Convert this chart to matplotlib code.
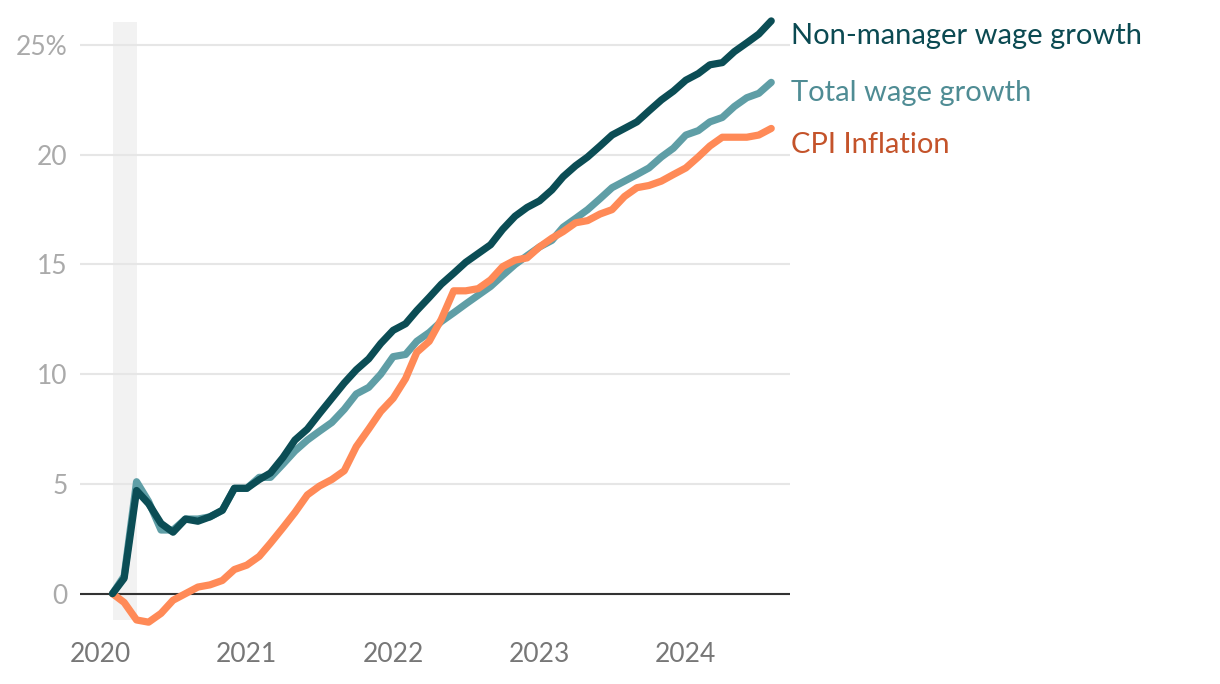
import matplotlib
matplotlib.use('Agg')
import matplotlib.pyplot as plt
import matplotlib.dates as mdates
import pandas as pd
from datetime import datetime

plt.rcParams['font.family'] = ['Lato', 'DejaVu Sans']

# monthly cumulative change since Feb 2020, %
months = pd.date_range('2020-02-01', '2024-08-01', freq='MS')

non_manager = [0.0, 0.7, 4.7, 4.1, 3.2, 2.8, 3.4, 3.3, 3.5, 3.8, 4.8,
               4.8, 5.2, 5.5, 6.2, 7.0, 7.5, 8.2, 8.9, 9.6, 10.2, 10.7, 11.4,
               12.0, 12.3, 12.9, 13.5, 14.1, 14.6, 15.1, 15.5, 15.9, 16.6, 17.2, 17.6,
               17.9, 18.4, 19.0, 19.5, 19.9, 20.4, 20.9, 21.2, 21.5, 22.0, 22.5, 22.9,
               23.4, 23.7, 24.1, 24.2, 24.7, 25.1, 25.5, 26.1]

total_wage = [0.0, 0.8, 5.1, 4.2, 2.9, 2.9, 3.4, 3.4, 3.5, 3.8, 4.8,
              4.8, 5.3, 5.3, 5.9, 6.5, 7.0, 7.4, 7.8, 8.4, 9.1, 9.4, 10.0,
              10.8, 10.9, 11.5, 11.9, 12.4, 12.8, 13.2, 13.6, 14.0, 14.5, 15.0, 15.4,
              15.8, 16.1, 16.7, 17.1, 17.5, 18.0, 18.5, 18.8, 19.1, 19.4, 19.9, 20.3,
              20.9, 21.1, 21.5, 21.7, 22.2, 22.6, 22.8, 23.3]

cpi = [0.0, -0.4, -1.2, -1.3, -0.9, -0.3, 0.0, 0.3, 0.4, 0.6, 1.1,
       1.3, 1.7, 2.3, 3.0, 3.7, 4.5, 4.9, 5.2, 5.6, 6.7, 7.5, 8.3,
       8.9, 9.8, 11.0, 11.5, 12.5, 13.8, 13.8, 13.9, 14.3, 14.9, 15.2, 15.3,
       15.8, 16.2, 16.5, 16.9, 17.0, 17.3, 17.5, 18.1, 18.5, 18.6, 18.8, 19.1,
       19.4, 19.9, 20.4, 20.8, 20.8, 20.8, 20.9, 21.2]

# label, values, line colour, label colour, label offset (pt)
series = [
    ('Total wage growth', total_wage, '#5f9ea6', '#4f8c94', -8),
    ('CPI Inflation', cpi, '#ff8a57', '#c4532a', -12),
    ('Non-manager wage growth', non_manager, '#0b4d55', '#0b4a52', -10.5),
]

fig = plt.figure(figsize=(12.2, 6.84), dpi=100)
ax = fig.add_axes([0.0656, 0.0936, 0.582, 0.8742])

# recession shading
ax.axvspan(datetime(2020, 2, 1), datetime(2020, 4, 1), color='#f2f2f2', zorder=0, lw=0)

for label, values, color, tcolor, dy in series:
    ax.plot(months, values, color=color, lw=5.2, solid_capstyle='round',
            solid_joinstyle='round', zorder=3, clip_on=False)
    ax.annotate(label, xy=(months[-1], values[-1]), xytext=(14, dy),
                textcoords='offset points', va='center', ha='left',
                fontsize=21, color=tcolor, annotation_clip=False)

ax.axhline(0, color='#333333', lw=1.5, zorder=2)
ax.set_ylim(-1.2, 26.05)
ax.set_xlim(datetime(2019, 11, 12), datetime(2024, 9, 17))
ax.set_yticks([0, 5, 10, 15, 20, 25])
ax.set_yticklabels(['0', '5', '10', '15', '20', '25%'])
ax.grid(axis='y', color='#e6e6e6', lw=1.5, zorder=1)
ax.xaxis.set_major_locator(mdates.YearLocator())
ax.xaxis.set_major_formatter(mdates.DateFormatter('%Y'))

for s in ax.spines.values():
    s.set_visible(False)
ax.tick_params(axis='both', length=0)
ax.tick_params(axis='y', labelsize=19, labelcolor='#aaaaaa', pad=9)
ax.tick_params(axis='x', labelsize=19, labelcolor='#777777', pad=16)

plt.savefig('out.png', dpi=100)
